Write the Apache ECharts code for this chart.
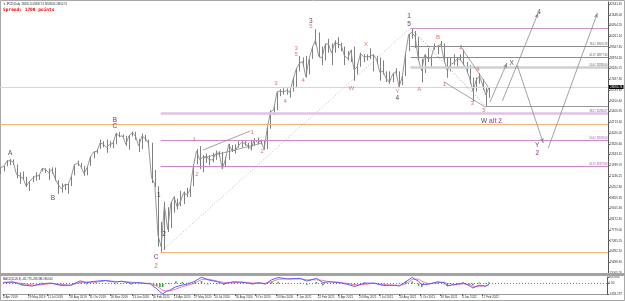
<!DOCTYPE html>
<html>
<head>
<meta charset="utf-8">
<title>JP225 Daily</title>
<script src="https://cdn.jsdelivr.net/npm/echarts@6/dist/echarts.min.js"></script>
<style>
  html, body { margin: 0; padding: 0; background: #fff; }
  #chart { width: 625px; height: 301px; }
</style>
</head>
<body>
<div id="chart"></div>
<script>
// weekly bars (one per Friday), starting 5 Apr 2019
const firstWeek = '2019-04-05';
const hi = [
  // 2019
  21830, 21900, 22280, 22360, 22320, 22000, 21500, 21550, 21200, 20900, 21260, 21500, 21350,
  21780, 21750, 21750, 21820, 21800, 21000, 20780, 20750, 20750, 21250, 22000, 22250, 22100,
  21900, 21850, 22550, 22850, 22950, 23600, 23500, 23600, 23500, 23550, 24050, 24090, 23930,
  // 2020
  23850, 23900, 24120, 24100, 23650, 23990, 23900, 23600, 23400, 21650, 20600, 18300, 19600,
  19250, 19600, 19950, 19800, 20300, 20250, 20500, 20600, 22000, 23000, 23180, 22600, 22700,
  22600, 22750, 22900, 22850, 22800, 22500, 23340, 23250, 23300, 23500, 23500, 23560, 23400,
  23600, 23700, 23730, 23600, 23550, 24400, 25500, 25750, 26700, 26850, 26900, 26900, 26800,
  // 2021
  27600, 28200, 28980, 28900, 29000, 28800, 29600, 30714, 30500, 29600, 29800, 30100, 29800,
  30000, 30200, 29850, 29600, 29300, 29400, 29600, 28500, 29200, 29100, 29100, 29480, 29100,
  29000, 28900, 28700, 28000, 28000, 27900, 28200, 28000, 27700, 29200, 30400, 30795, 30600,
  30200, 28800, 29100, 29500, 29000, 29800, 29700, 29960, 29800, 28900, 28900, 29100, 28900, 29100,
  // 2022
  29388, 28600, 28400, 27600, 27600, 27880, 27500, 27000, 27000
];
const lo = [
  21380, 21550, 21880, 21950, 21960, 21100, 20750, 21050, 20550, 20290, 20870, 20950, 21000,
  21550, 21450, 20990, 21400, 20950, 20110, 20180, 20350, 20110, 20600, 21300, 21900, 21750,
  21270, 21300, 21900, 22400, 22700, 23000, 23100, 22750, 23100, 23050, 23300, 23750, 23750,
  23200, 22950, 23800, 23600, 22800, 22980, 23500, 23150, 20800, 20550, 16700, 16358, 16500,
  17650, 17900, 18900, 19100, 19300, 19450, 19900, 19900, 20600, 22000, 21700, 21500, 22100,
  21950, 22150, 22300, 22500, 21700, 21900, 22300, 22800, 22700, 23100, 23100, 23200, 23000,
  22900, 23200, 23300, 23300, 22950, 23000, 24300, 25200, 25500, 26400, 26500, 26500, 26300,
  26700, 27000, 28000, 28300, 27600, 27800, 28800, 29700, 28900, 28400, 28700, 29200, 28400,
  29200, 29500, 29300, 28400, 28700, 28600, 27385, 27800, 28300, 28600, 28700, 28800, 28000,
  28500, 27400, 27800, 27300, 27200, 27300, 27700, 26954, 27100, 27700, 29300, 30100, 29500,
  28700, 27293, 27900, 28600, 28300, 29400, 29100, 29500, 28600, 27588, 28000, 28400, 28300, 28700,
  28400, 27900, 27200, 26044, 26700, 27200, 26800, 25775, 26300
];
const cl = [
  21807, 21870, 22200, 22259, 22150, 21345, 21250, 21117, 20601, 20885, 21117, 21259, 21276,
  21746, 21686, 21467, 21658, 21087, 20685, 20419, 20711, 20704, 21199, 21988, 22079, 21879,
  21410, 21799, 22493, 22800, 22851, 23392, 23303, 23113, 23294, 23354, 24023, 23816, 23837,
  23300, 23850, 24041, 23827, 23205, 23827, 23687, 23386, 21142, 20749, 17431, 16700, 19389,
  17820, 19498, 19897, 19262, 19619, 20179, 20037, 20388, 21878, 22864, 22305, 22478, 22512,
  22306, 22290, 22696, 22751, 21710, 22329, 23289, 22920, 22882, 23205, 23406, 23360, 23204,
  23029, 23619, 23410, 23516, 22977, 24325, 25385, 25527, 26644, 26751, 26652, 26763, 26656,
  27444, 28139, 28519, 28631, 27663, 28779, 29520, 30018, 28966, 28864, 29717, 29792, 29176,
  29854, 29768, 29683, 29020, 28812, 29357, 28084, 28317, 29149, 28941, 28948, 28964, 29066,
  28783, 27940, 28003, 27548, 27283, 27820, 27977, 27013, 27641, 29128, 30381, 30500, 30249,
  28771, 28049, 29068, 28805, 28893, 29612, 29610, 29746, 28752, 28030, 28437, 28546, 28782, 28792,
  28479, 28124, 27522, 26717, 27440, 27696, 27122, 26476, 26990
];

// axis labels
const xTickLabels = ['4 Apr 2019', '29 May 2019', '11 Jul 2019', '28 Aug 2019', '11 Oct 2019', '26 Nov 2019',
  '13 Jan 2020', '26 Feb 2020', '13 Apr 2020', '27 May 2020', '10 Jul 2020', '26 Aug 2020', '9 Oct 2020',
  '23 Nov 2020', '7 Jan 2021', '22 Feb 2021', '8 Apr 2021', '24 May 2021', '7 Jul 2021', '20 Aug 2021',
  '5 Oct 2021', '18 Nov 2021', '4 Jan 2022', '17 Feb 2022'];
const yTicks = [15005.20, 15698.65, 16392.10, 17085.55, 17779.00, 18472.45, 19165.90, 19859.35, 20552.80,
  21246.25, 21939.70, 22633.15, 23326.60, 24020.05, 24713.50, 25406.95, 26100.40, 26793.85, 27487.30,
  28180.75, 28874.20, 29567.65, 30261.10, 30954.55, 31648.00, 32341.45];

// MACD(12,26,9)
const macdDates = ['2019-04-05', '2019-04-26', '2019-05-17', '2019-06-07', '2019-06-28', '2019-07-19', '2019-08-09',
  '2019-08-30', '2019-09-20', '2019-10-04', '2019-10-25', '2019-11-15', '2019-12-06', '2019-12-20', '2020-01-10',
  '2020-01-24', '2020-02-07', '2020-02-21', '2020-02-28', '2020-03-06', '2020-03-13', '2020-03-19', '2020-03-27',
  '2020-04-03', '2020-04-17', '2020-05-01', '2020-05-15', '2020-05-29', '2020-06-12', '2020-06-26', '2020-07-17',
  '2020-07-31', '2020-08-21', '2020-09-11', '2020-10-02', '2020-10-16', '2020-10-30', '2020-11-13', '2020-11-27',
  '2020-12-18', '2021-01-15', '2021-01-29', '2021-02-19', '2021-03-05', '2021-03-19', '2021-04-09', '2021-04-30',
  '2021-05-14', '2021-06-04', '2021-06-25', '2021-07-16', '2021-08-06', '2021-08-20', '2021-09-03', '2021-09-17',
  '2021-10-01', '2021-10-08', '2021-10-22', '2021-11-12', '2021-11-26', '2021-12-03', '2021-12-24', '2022-01-07',
  '2022-01-21', '2022-01-28', '2022-02-11', '2022-02-25', '2022-03-04'];
const macdMain = [150, 220, -220, -350, -40, 60, -270, -240, 360, 110, 320, 430, 190, 320, 50, 140, 20, -50, -450,
  -700, -1150, -1450, -1100, -950, -450, -220, -40, 330, 880, 520, 240, -50, 240, 170, -50, 110, -70, 520, 820, 620,
  720, 330, 720, 140, 240, 140, -140, -420, 50, 50, -280, -240, -330, 240, 850, 290, -140, -100, 240, 100, -330,
  -100, 80, -330, -620, -240, -380, -112];
const macdSignal = [120, 170, 0, -230, -160, 0, -110, -250, 140, 230, 190, 380, 290, 270, 190, 110, 60, 0, -140,
  -360, -650, -950, -1050, -1020, -780, -450, -180, 50, 560, 620, 330, 140, 140, 190, 70, 70, 20, 240, 580, 670,
  620, 520, 520, 430, 240, 170, 0, -190, -140, 50, -140, -240, -260, -50, 560, 610, 330, -50, 100, 190, 0,
  -140, -50, -140, -380, -380, -300, -298];
const macdHist = [30, 50, -220, -120, 120, 60, -160, 10, 220, -120, 130, 50, -100, 50, -140, 30, -40, -50, -310,
  -340, -500, -500, -50, 70, 330, 230, 140, 280, 320, -100, -90, -190, 100, -20, -120, 40, -90, 280, 240, -50,
  100, -190, 200, -290, 0, -30, -140, -230, 190, 0, -140, 0, -70, 290, 290, -320, -470, -50, 140, -90, -330,
  40, 130, -190, -240, 140, -80, 186];
const macdMax = 903.896;
const macdMin = -1458.237;

// wave labels: [date, price, text]
const blackWaves = [
  ['2019-04-26', 22740, 'A'], ['2019-07-28', 19840, 'B'], ['2019-12-10', 24480, 'C'],
  ['2020-03-15', 20030, '1'], ['2020-03-26', 17520, '2'], ['2021-02-09', 31246, '3'],
  ['2021-08-16', 26283, '4'], ['2021-09-11', 31053, '5'], ['2022-02-21', 24801, 'W'],
  ['2022-04-22', 28539, 'X'], ['2022-06-21', 31826, '4'], ['2022-06-17', 23254, 'Y']
];
const pinkWaves = [
  ['2020-05-31', 23641, '1'], ['2020-06-06', 21385, '2'], ['2020-10-04', 24092, '1'], ['2020-10-26', 22867, '2'],
  ['2020-11-25', 27250, '3'], ['2020-12-15', 26090, '4'], ['2021-01-08', 29506, '3'], ['2021-01-08', 29119, '5'],
  ['2021-01-23', 27444, '4'], ['2021-02-09', 30924, '5'], ['2021-05-08', 26928, 'W'], ['2021-06-09', 29764, 'X'],
  ['2021-08-16', 26735, 'Y'], ['2021-10-03', 26863, 'A'], ['2021-11-13', 30215, 'B'], ['2021-11-26', 27186, '1'],
  ['2022-01-02', 29570, '2'], ['2022-01-26', 25961, '3'], ['2022-02-08', 28152, '4'], ['2022-02-21', 25510, '5']
];
const purpleWaves = [
  ['2019-12-10', 24865, 'B'], ['2020-03-09', 16036, 'C'], ['2021-09-11', 31568, '1'],
  ['2022-03-18', 24801, 'alt 2'], ['2022-06-17', 22739, '2']
];
const orangeWaves = [['2020-03-09', 15456, '2']];

// levels
const fibUpperPct = ['76.4', '61.8', '50.0'];
const fibUpperVal = [29610.28, 28877.36, 28285.00];
const fibLowerPct = ['38.2', '50.0', '61.8'];
const fibLowerVal = [25280.07, 23576.50, 21872.93];
const waveTop = ['2021-09-14', 30795];
const cLow = ['2020-03-19', 16358];
const lastLow = ['2022-02-24', 25775];
const orangeLevel = 24608;
const bid = 26990.74;

// drawn trend lines and projections: [[date, price], [date, price]]
const trendLines = [
  [['2020-06-19', 22932], ['2020-09-30', 24157]],
  [['2020-06-19', 22416], ['2020-10-26', 23383]],
  [['2021-11-26', 27315], ['2022-02-24', 25700]],
  [['2022-01-02', 29570], ['2022-03-02', 26992]]
];
const projections = [
  [['2022-03-06', 26026], ['2022-04-12', 28539]],
  [['2022-04-02', 26090], ['2022-06-19', 31762]],
  [['2022-05-04', 28410], ['2022-06-30', 23383]],
  [['2022-07-11', 23061], ['2022-10-26', 31762]]
];

// ---------------------------------------------------------------
const DAY = 86400000;
const ts = s => { const p = s.split('-').map(Number); return Date.UTC(p[0], p[1] - 1, p[2]); };
const MON = { Jan: 0, Feb: 1, Mar: 2, Apr: 3, May: 4, Jun: 5, Jul: 6, Aug: 7, Sep: 8, Oct: 9, Nov: 10, Dec: 11 };
const parseLabel = s => { const p = s.split(' '); return Date.UTC(+p[2], MON[p[1]], +p[0]); };

const weeks = cl.map((_, i) => ts(firstWeek) + i * 7 * DAY);
const xMin = ts('2019-04-04');
const xMax = ts('2022-11-18');
const xTickVals = xTickLabels.map(parseLabel);
const labelByTs = {};
xTickLabels.forEach((s, i) => { labelByTs[xTickVals[i]] = s; });

const FONT = 'Liberation Sans';

function seg(a, b, lineStyle, label, arrow) {
  const l = label || { show: false };
  return [
    { coord: [typeof a[0] === 'string' ? ts(a[0]) : a[0], a[1]], symbol: 'none', lineStyle, label: l },
    { coord: [typeof b[0] === 'string' ? ts(b[0]) : b[0], b[1]], symbol: arrow ? 'arrow' : 'none', symbolSize: arrow ? [3, 5] : 0, lineStyle, label: l }
  ];
}
const fibLabel = (txt, color) => ({
  show: true, position: 'insideEndTop', formatter: txt, color, fontSize: 2.6, fontFamily: FONT, distance: 0.5
});

const marks = [];
// full width lines
marks.push(seg([xMin, orangeLevel], [xMax, orangeLevel], { color: '#f5b27a', width: 1, type: 'solid' }));
marks.push(seg([xMin, bid], [xMax, bid], { color: '#d6d6d6', width: 1, type: 'solid' },
  { show: true, position: 'end', formatter: bid.toFixed(2), color: '#fff', backgroundColor: '#000',
    fontSize: 3, fontFamily: FONT, padding: [1, 1, 0, 1], distance: 1 }));
// fib from the C low
marks.push(seg(cLow, [xMax, cLow[1]], { color: '#f5b27a', width: 1, type: 'solid' }));
fibLowerVal.forEach((v, i) => {
  const thick = i === 0;
  marks.push(seg([cLow[0], v], [xMax, v], { color: thick ? '#e3c2e3' : '#cc8acc', width: thick ? 2.5 : 1, type: 'solid' },
    fibLabel(fibLowerPct[i] + ' / ' + v.toFixed(2), '#a040a8')));
});
// fib from the wave 5 top
marks.push(seg(waveTop, [xMax, waveTop[1]], { color: '#c994c9', width: 1, type: 'solid' }));
fibUpperVal.forEach((v, i) => {
  const thick = i === 2;
  marks.push(seg([waveTop[0], v], [xMax, v], { color: thick ? '#d0d0d0' : '#8c8c8c', width: thick ? 2.5 : 1, type: 'solid' },
    fibLabel(fibUpperPct[i] + ' / ' + v.toFixed(2), '#555')));
});
marks.push(seg(lastLow, [xMax, lastLow[1]], { color: '#9a9a9a', width: 1, type: 'solid' }));
// diagonals
marks.push(seg(cLow, waveTop, { color: '#d9a6d9', width: 1, type: [1, 2] }));
marks.push(seg(waveTop, lastLow, { color: '#9a9a9a', width: 1, type: [1, 2] }));
trendLines.forEach(t => marks.push(seg(t[0], t[1], { color: '#8a8a8a', width: 0.8, type: 'solid' })));
projections.forEach(t => marks.push(seg(t[0], t[1], { color: '#8a8a8a', width: 0.8, type: 'solid' }, null, true)));

const labelSeries = (rows, color, size, weight) => ({
  type: 'scatter', xAxisIndex: 0, yAxisIndex: 0, symbolSize: 1, silent: true, z: 10,
  itemStyle: { color: 'rgba(0,0,0,0)' },
  data: rows.map(r => ({ name: r[2], value: [ts(r[0]), r[1]] })),
  label: { show: true, position: 'inside', formatter: '{b}', color, fontSize: size, fontFamily: FONT, fontWeight: weight }
});

const chart = echarts.init(document.getElementById('chart'), null, { renderer: 'canvas' });
chart.setOption({
  animation: false,
  backgroundColor: '#fff',
  grid: [
    { left: 0, right: 17, top: 2, height: 271 },
    { left: 0, right: 17, top: 277, height: 17 }
  ],
  xAxis: [
    { type: 'value', gridIndex: 0, min: xMin, max: xMax, scale: true,
      axisLine: { show: false }, axisTick: { show: false }, axisLabel: { show: false }, splitLine: { show: false } },
    { type: 'value', gridIndex: 1, min: xMin, max: xMax, scale: true,
      axisLine: { show: true, onZero: false, lineStyle: { color: '#999', width: 1 } },
      axisTick: { show: true, customValues: xTickVals, length: 2, lineStyle: { color: '#666' } },
      axisLabel: { show: true, customValues: xTickVals, formatter: v => labelByTs[Math.round(v)] || '',
        fontSize: 3, fontFamily: FONT, color: '#333', align: 'left', margin: 1.5 },
      splitLine: { show: false } }
  ],
  yAxis: [
    { type: 'value', gridIndex: 0, position: 'right', min: 15005, max: 32470,
      axisLine: { show: true, lineStyle: { color: '#555', width: 1 } },
      axisTick: { show: true, customValues: yTicks, length: 2, lineStyle: { color: '#666' } },
      axisLabel: { customValues: yTicks, formatter: v => v.toFixed(2), fontSize: 3, fontFamily: FONT, color: '#333', margin: 1.5 },
      splitLine: { show: false } },
    { type: 'value', gridIndex: 1, position: 'right', min: macdMin, max: macdMax,
      axisLine: { show: true, lineStyle: { color: '#555', width: 1 } },
      axisTick: { show: true, customValues: [macdMax, 0, macdMin], length: 2, lineStyle: { color: '#666' } },
      axisLabel: { customValues: [macdMax, 0, macdMin], formatter: v => (v === 0 ? '0.00' : v.toFixed(3)),
        fontSize: 3, fontFamily: FONT, color: '#333', margin: 1.5 },
      splitLine: { show: false } }
  ],
  series: [
    { // weekly high-low bars
      type: 'custom', xAxisIndex: 0, yAxisIndex: 0, silent: true, z: 3,
      data: weeks.map((w, i) => [w, hi[i], lo[i]]),
      encode: { x: 0, y: [1, 2] },
      renderItem: (params, api) => {
        const top = api.coord([api.value(0), api.value(1)]);
        const bot = api.coord([api.value(0), api.value(2)]);
        const x = Math.round(top[0]) + 0.5;
        return { type: 'line', shape: { x1: x, y1: top[1], x2: x, y2: bot[1] }, style: { stroke: '#808080', lineWidth: 1 } };
      }
    },
    { // weekly closes
      type: 'line', xAxisIndex: 0, yAxisIndex: 0, silent: true, z: 3,
      data: weeks.map((w, i) => [w, cl[i]]),
      showSymbol: false, lineStyle: { color: '#8a8a8a', width: 0.9 },
      markLine: { silent: true, symbol: 'none', animation: false, data: marks }
    },
    labelSeries(blackWaves, '#222', 6.5, 'normal'),
    labelSeries(pinkWaves, '#e0503f', 6, 'normal'),
    labelSeries(purpleWaves, '#a040a8', 6.5, 'bold'),
    labelSeries(orangeWaves, '#e08a3c', 6.5, 'bold'),
    { type: 'bar', xAxisIndex: 1, yAxisIndex: 1, silent: true, barWidth: 1.5,
      itemStyle: { color: '#33a033' },
      data: macdDates.map((d, i) => [ts(d), macdHist[i]]),
      markLine: { silent: true, symbol: 'none', data: [{ yAxis: 0 }], label: { show: false },
        lineStyle: { color: '#777', width: 1, type: [1, 2] } } },
    { type: 'line', xAxisIndex: 1, yAxisIndex: 1, silent: true, showSymbol: false,
      lineStyle: { color: '#ff78b4', width: 1 },
      data: macdDates.map((d, i) => [ts(d), macdSignal[i]]) },
    { type: 'line', xAxisIndex: 1, yAxisIndex: 1, silent: true, showSymbol: false,
      lineStyle: { color: '#5a5aff', width: 1 },
      data: macdDates.map((d, i) => [ts(d), macdMain[i]]) }
  ],
  graphic: [
    { type: 'rect', shape: { x: 0.5, y: 0.5, width: 624, height: 300 }, style: { fill: 'none', stroke: '#a8a8a8', lineWidth: 1 }, silent: true },
    { type: 'rect', shape: { x: 0, y: 273, width: 625, height: 3 }, style: { fill: '#a3a3a3' }, silent: true, z: 20 },
    { type: 'text', x: 3, y: 3, style: { text: '\u25BC JP225,Daily  26826.10 26837.74 26598.64 26812.74', fontSize: 2.6, fontFamily: FONT, fill: '#222' }, silent: true },
    { type: 'text', x: 3, y: 7, style: { text: 'Spread: 1700 points', fontSize: 4.5, fontWeight: 'bold', fontFamily: 'DejaVu Sans Mono', fill: '#ff0000' }, silent: true },
    { type: 'text', x: 3, y: 277.5, style: { text: 'MACD(12,26,9) -111.776 -298.386 186.610', fontSize: 2.6, fontFamily: FONT, fill: '#222' }, silent: true }
  ]
});
</script>
</body>
</html>
